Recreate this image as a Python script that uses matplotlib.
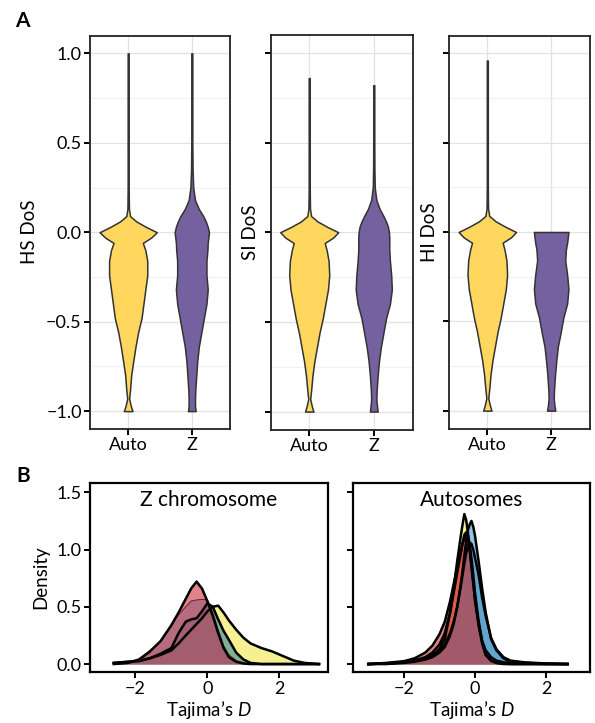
import numpy as np
import matplotlib
matplotlib.use("Agg")
from matplotlib import pyplot as plt

plt.rcParams['font.family'] = ['Lato', 'DejaVu Sans']
plt.rcParams['mathtext.fontset'] = 'custom'
plt.rcParams['mathtext.it'] = 'Lato:italic'
plt.rcParams['mathtext.rm'] = 'Lato'

# ---- panel A: DoS violins (half-widths) ----
groups = ['Auto', 'Z']
dos_y = [-1.0, -0.97, -0.93, -0.88, -0.8, -0.72, -0.64, -0.56, -0.48, -0.4, -0.32,
         -0.24, -0.16, -0.1, -0.06, -0.03, 0.0, 0.03, 0.06, 0.09, 0.13, 0.18, 0.25,
         0.35, 0.5]

hs_auto = [0.068, 0.04, 0.015, 0.03, 0.047, 0.08, 0.115, 0.156, 0.21, 0.24, 0.27,
           0.30, 0.30, 0.27, 0.23, 0.36, 0.45, 0.28, 0.13, 0.03, 0.012, 0.01, 0.008,
           0.008, 0.008]
hs_z = [0.06, 0.05, 0.05, 0.055, 0.07, 0.085, 0.11, 0.15, 0.19, 0.23, 0.25, 0.23,
        0.23, 0.245, 0.25, 0.26, 0.27, 0.25, 0.22, 0.18, 0.11, 0.05, 0.022, 0.012,
        0.008]
si_auto = [0.065, 0.04, 0.015, 0.03, 0.05, 0.08, 0.12, 0.16, 0.21, 0.25, 0.29, 0.31,
           0.30, 0.27, 0.24, 0.37, 0.45, 0.28, 0.13, 0.03, 0.012, 0.01, 0.008, 0.008,
           0.008]
si_z = [0.06, 0.05, 0.04, 0.045, 0.06, 0.08, 0.11, 0.15, 0.19, 0.25, 0.28, 0.27,
        0.25, 0.24, 0.24, 0.24, 0.235, 0.22, 0.19, 0.15, 0.09, 0.04, 0.015, 0.01,
        0.008]
hi_auto = [0.065, 0.04, 0.015, 0.03, 0.05, 0.08, 0.12, 0.16, 0.21, 0.25, 0.29, 0.31,
           0.30, 0.27, 0.24, 0.37, 0.45, 0.28, 0.13, 0.03, 0.012, 0.01, 0.008, 0.008,
           0.008]
hi_z = [0.065, 0.05, 0.04, 0.045, 0.06, 0.08, 0.105, 0.15, 0.19, 0.25, 0.27, 0.25,
        0.22, 0.23, 0.25, 0.26, 0.27]

hs_top = [1.0, 1.0]
si_top = [0.86, 0.82]
hi_top = [0.96, 0.0]

violin_cols = ['#FFD65E', '#7661A0']

# ---- panel B: Tajima's D densities ----
zc_x = [-2.6, -2.2, -1.9, -1.6, -1.3, -1.0, -0.8, -0.6, -0.45, -0.3, -0.15, 0.0,
        0.15, 0.3, 0.45, 0.6, 0.8, 1.0, 1.2, 1.5, 1.8, 2.1, 2.4, 2.7, 3.1]
zc_yellow = [0.01, 0.02, 0.03, 0.05, 0.08, 0.12, 0.18, 0.25, 0.3, 0.35, 0.4, 0.46,
             0.5, 0.51, 0.45, 0.38, 0.3, 0.23, 0.18, 0.14, 0.11, 0.07, 0.03, 0.01, 0.0]
zc_teal = [0.01, 0.02, 0.025, 0.05, 0.09, 0.14, 0.27, 0.37, 0.39, 0.40, 0.46, 0.53,
           0.50, 0.39, 0.29, 0.21, 0.1, 0.04, 0.01, 0.0, 0.0, 0.0, 0.0, 0.0, 0.0]
zc_blue = [0.0, 0.01, 0.03, 0.1, 0.2, 0.34, 0.43, 0.5, 0.55, 0.56, 0.565, 0.56,
           0.45, 0.3, 0.16, 0.08, 0.03, 0.01, 0.0, 0.0, 0.0, 0.0, 0.0, 0.0, 0.0]
zc_red = [0.0, 0.01, 0.04, 0.11, 0.2, 0.34, 0.45, 0.57, 0.66, 0.72, 0.66, 0.55,
          0.42, 0.27, 0.14, 0.06, 0.02, 0.005, 0.0, 0.0, 0.0, 0.0, 0.0, 0.0, 0.0]

au_x = [-3.0, -2.5, -2.0, -1.7, -1.4, -1.2, -1.0, -0.85, -0.7, -0.6, -0.5, -0.4,
        -0.35, -0.3, -0.25, -0.2, -0.15, -0.1, -0.05, 0.0, 0.1, 0.2, 0.3, 0.45, 0.6,
        0.8, 1.0, 1.4, 2.0, 2.6]
au_yellow = [0.0, 0.005, 0.02, 0.03, 0.04, 0.07, 0.13, 0.22, 0.45, 0.66, 0.9, 1.12,
             1.22, 1.31, 1.26, 1.15, 1.0, 0.85, 0.7, 0.55, 0.35, 0.2, 0.12, 0.06, 0.03,
             0.015, 0.01, 0.005, 0.0, 0.0]
au_orange = [0.0, 0.005, 0.015, 0.03, 0.06, 0.1, 0.17, 0.27, 0.45, 0.62, 0.8, 0.97,
             1.06, 1.13, 1.15, 1.1, 1.0, 0.86, 0.72, 0.58, 0.34, 0.18, 0.08, 0.03,
             0.01, 0.0, 0.0, 0.0, 0.0, 0.0]
au_teal = [0.0, 0.005, 0.015, 0.03, 0.05, 0.08, 0.12, 0.17, 0.27, 0.37, 0.5, 0.68,
           0.78, 0.88, 0.97, 1.03, 1.06, 1.05, 1.0, 0.93, 0.78, 0.58, 0.42, 0.23, 0.13,
           0.06, 0.03, 0.015, 0.005, 0.0]
au_blue = [0.0, 0.0, 0.01, 0.02, 0.04, 0.06, 0.1, 0.15, 0.25, 0.35, 0.5, 0.7, 0.82,
           0.95, 1.07, 1.17, 1.22, 1.25, 1.2, 1.12, 0.9, 0.66, 0.45, 0.22, 0.12, 0.05,
           0.02, 0.01, 0.003, 0.0]
au_red = [0.0, 0.01, 0.025, 0.05, 0.1, 0.16, 0.26, 0.37, 0.55, 0.7, 0.85, 0.98, 1.05,
          1.1, 1.13, 1.12, 1.05, 0.92, 0.78, 0.62, 0.38, 0.2, 0.08, 0.03, 0.01, 0.005,
          0.0, 0.0, 0.0, 0.0]

pop_cols = {'yellow': '#F2E64A', 'teal': '#2C8A98', 'blue': '#4C9BD6',
            'orange': '#F06A28', 'red': '#D0303A'}

W, H = 595, 723
fig = plt.figure(figsize=(W / 100, H / 100), dpi=100)


def box(l, t, r, b):
    return [l / W, 1 - b / H, (r - l) / W, (b - t) / H]


def violin(ax, xc, w, top, col):
    y = list(dos_y[:len(w)])
    w = list(w)
    if top > y[-1]:
        y.append(top)
        w.append(0.008)
    y = np.array(y)
    w = np.array(w)
    ax.fill_betweenx(y, xc - w, xc + w, facecolor=col, edgecolor='#333333',
                     linewidth=1.1, zorder=3)


panels_a = [
    ('HS DoS', hs_auto, hs_z, hs_top, (90, 35.5, 230, 429)),
    ('SI DoS', si_auto, si_z, si_top, (270.5, 35, 412.5, 429.5)),
    ('HI DoS', hi_auto, hi_z, hi_top, (449, 35.5, 589.5, 428.5)),
]
for i, (lab, wa, wz, tops, pos) in enumerate(panels_a):
    ax = fig.add_axes(box(*pos))
    ax.set_xlim(0.4, 2.6)
    ax.set_ylim(-1.1, 1.1)
    for yy in [-0.75, -0.25, 0.25, 0.75]:
        ax.axhline(yy, color='#F2F2F2', lw=0.9, zorder=0)
    for yy in [-1.0, -0.5, 0.0, 0.5, 1.0]:
        ax.axhline(yy, color='#E2E2E2', lw=0.9, zorder=0)
    for xx in [1, 2]:
        ax.axvline(xx, color='#E2E2E2', lw=0.9, zorder=0)
    violin(ax, 1, wa, tops[0], violin_cols[0])
    violin(ax, 2, wz, tops[1], violin_cols[1])
    ax.set_xticks([1, 2])
    ax.set_xticklabels(groups)
    ax.set_yticks([-1.0, -0.5, 0.0, 0.5, 1.0])
    if i == 0:
        ax.set_yticklabels(['\u22121.0', '\u22120.5', '0.0', '0.5', '1.0'])
        ax.set_ylabel(lab, fontsize=13.5, labelpad=6)
    else:
        ax.set_yticklabels([])
        ax.set_ylabel(lab, fontsize=13.5, labelpad=2)
    ax.tick_params(length=4, width=1.4, labelsize=13, color='black', pad=2)
    for s in ax.spines.values():
        s.set_linewidth(1.3)
        s.set_color('#222222')

fig.text(15 / W, 1 - 11 / H, 'A', fontsize=15, fontweight='bold', va='top')
fig.text(16 / W, 1 - 466 / H, 'B', fontsize=15, fontweight='bold', va='top')

panels_b = [
    ('Z chromosome', zc_x, [('yellow', zc_yellow), ('teal', zc_teal),
                            ('blue', zc_blue), ('red', zc_red)],
     (90, 482.7, 328, 672.3), (-3.26, 3.35)),
    ('Autosomes', au_x, [('yellow', au_yellow), ('orange', au_orange),
                         ('teal', au_teal), ('blue', au_blue), ('red', au_red)],
     (353.3, 482.7, 590, 672.3), (-3.42, 3.23)),
]
for i, (title, xs, curves, pos, xl) in enumerate(panels_b):
    ax = fig.add_axes(box(*pos))
    for name, ys in curves:
        ax.fill_between(xs, ys, 0, color=pop_cols[name], alpha=0.6, lw=0)
        if i == 0 and name == 'blue':
            ax.plot(xs, ys, color='#6a2433', lw=0.8)
        else:
            ax.plot(xs, ys, color='black', lw=1.8, solid_joinstyle='round')
    ax.set_xlim(*xl)
    ax.set_ylim(-0.072, 1.584)
    ax.set_xticks([-2, 0, 2])
    ax.set_xticklabels(['\u22122', '0', '2'])
    ax.set_yticks([0.0, 0.5, 1.0, 1.5])
    if i == 0:
        ax.set_yticklabels(['0.0', '0.5', '1.0', '1.5'])
        ax.set_ylabel('Density', fontsize=13.5, labelpad=5)
    else:
        ax.set_yticklabels([])
    ax.set_xlabel('Tajima\u2019s $D$', fontsize=13.5, labelpad=2)
    ax.text(0.5, 0.91, title, transform=ax.transAxes, ha='center', va='center',
            fontsize=15)
    ax.tick_params(length=4, width=1.4, labelsize=13, color='black', pad=2)
    for s in ax.spines.values():
        s.set_linewidth(1.6)
        s.set_color('black')

fig.savefig('out.png', dpi=100)
